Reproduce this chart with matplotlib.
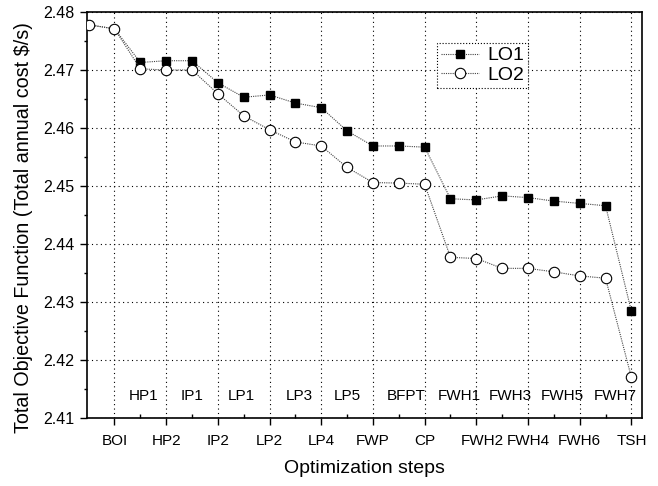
import matplotlib
matplotlib.use("Agg")
import matplotlib.pyplot as plt
import matplotlib.transforms as mtransforms

plt.rcParams['font.family'] = ['Liberation Sans', 'DejaVu Sans']

steps = ['', 'BOI', 'HP1', 'HP2', 'IP1', 'IP2', 'LP1', 'LP2', 'LP3', 'LP4', 'LP5',
         'FWP', 'BFPT', 'CP', 'FWH1', 'FWH2', 'FWH3', 'FWH4', 'FWH5', 'FWH6', 'FWH7', 'TSH']
lo1 = [2.4778, 2.4771, 2.4713, 2.4716, 2.4716, 2.4678, 2.4653, 2.4657, 2.4643, 2.4635, 2.4595,
       2.4569, 2.4569, 2.4567, 2.4478, 2.4476, 2.4483, 2.4480, 2.4474, 2.4470, 2.4466, 2.4284]
lo2 = [2.4778, 2.4771, 2.4702, 2.4700, 2.4700, 2.4659, 2.4621, 2.4597, 2.4576, 2.4569, 2.4532,
       2.4506, 2.4505, 2.4503, 2.4377, 2.4375, 2.4358, 2.4358, 2.4352, 2.4345, 2.4341, 2.4170]
yticks = [2.41, 2.42, 2.43, 2.44, 2.45, 2.46, 2.47, 2.48]

# small manual nudges (pixels) of the category labels, as in the original figure
label_nudge = {'HP1': 3, 'LP1': -2, 'LP3': 4, 'BFPT': 7, 'FWH1': 9, 'FWH3': 8,
               'FWH5': 8, 'FWH7': 10, 'FWH2': 6}

fig = plt.figure(figsize=(6.58, 4.86), dpi=100)
ax = fig.add_axes([87/658, 1-418/486, (642-87)/658, (418-12)/486])

x = list(range(len(steps)))
ax.plot(x, lo1, color='#444444', lw=0.8, ls=(0, (1, 1)), marker='s', ms=6,
        mfc='black', mec='black', label='LO1', zorder=3, markevery=slice(2, None))
ax.plot(x, lo2, color='#444444', lw=0.8, ls=(0, (1, 1)), marker='o', ms=7.5,
        mfc='white', mec='black', mew=0.8, label='LO2', zorder=4)

ax.set_xlim(-0.064, 21.41)
ax.set_ylim(2.41, 2.48)

major = [i for i in x if i % 2 == 1]
minor = [i for i in x if i % 2 == 0 and i > 0]
ax.set_xticks(major)
ax.set_xticklabels([steps[i] for i in major], fontsize=11)
ax.set_xticks(minor, minor=True)
ax.tick_params(axis='x', which='major', direction='out', length=5, width=1, pad=6.5)
ax.tick_params(axis='x', which='minor', direction='in', length=3, width=1)
for lbl in ax.get_xticklabels():
    dx = label_nudge.get(lbl.get_text(), 0)
    if dx:
        lbl.set_transform(lbl.get_transform() + mtransforms.Affine2D().translate(dx, 0))

trans = mtransforms.blended_transform_factory(ax.transData, ax.transAxes)
for i in minor:
    dx = label_nudge.get(steps[i], 0)
    t = trans + mtransforms.Affine2D().translate(dx, 0)
    ax.text(i, 0.055, steps[i], transform=t, ha='center', va='center', fontsize=11)

ax.set_yticks(yticks)
ax.set_yticklabels([f'{v:.2f}' for v in yticks], fontsize=11.5)
ax.set_yticks([v + 0.005 for v in yticks[:-1]], minor=True)
ax.tick_params(axis='y', which='major', direction='out', length=5, width=1, pad=4.3)
ax.tick_params(axis='y', which='minor', direction='out', length=2.5, width=1)

ax.grid(True, which='major', color='black', ls=(0, (1, 3)), lw=0.8)
for s in ax.spines.values():
    s.set_linewidth(1.2)

ax.set_xlabel('Optimization steps', fontsize=14)
ax.xaxis.set_label_coords(0.5, -0.104)
ax.set_ylabel('Total Objective Function (Total annual cost $/s)', fontsize=14.2, va='center')
ax.yaxis.set_label_coords(-(87 - 23.5) / 555, 0.469)

leg = ax.legend(loc='upper left', bbox_to_anchor=(0.63, 0.924), fontsize=14,
                frameon=True, fancybox=False, shadow=False, borderpad=0.2,
                labelspacing=0.1, handlelength=2.0, handletextpad=0.4, borderaxespad=0)
fr = leg.get_frame()
fr.set_edgecolor('black')
fr.set_linestyle(':')
fr.set_linewidth(0.8)
fr.set_alpha(1)

fig.savefig('out.png', dpi=100)
